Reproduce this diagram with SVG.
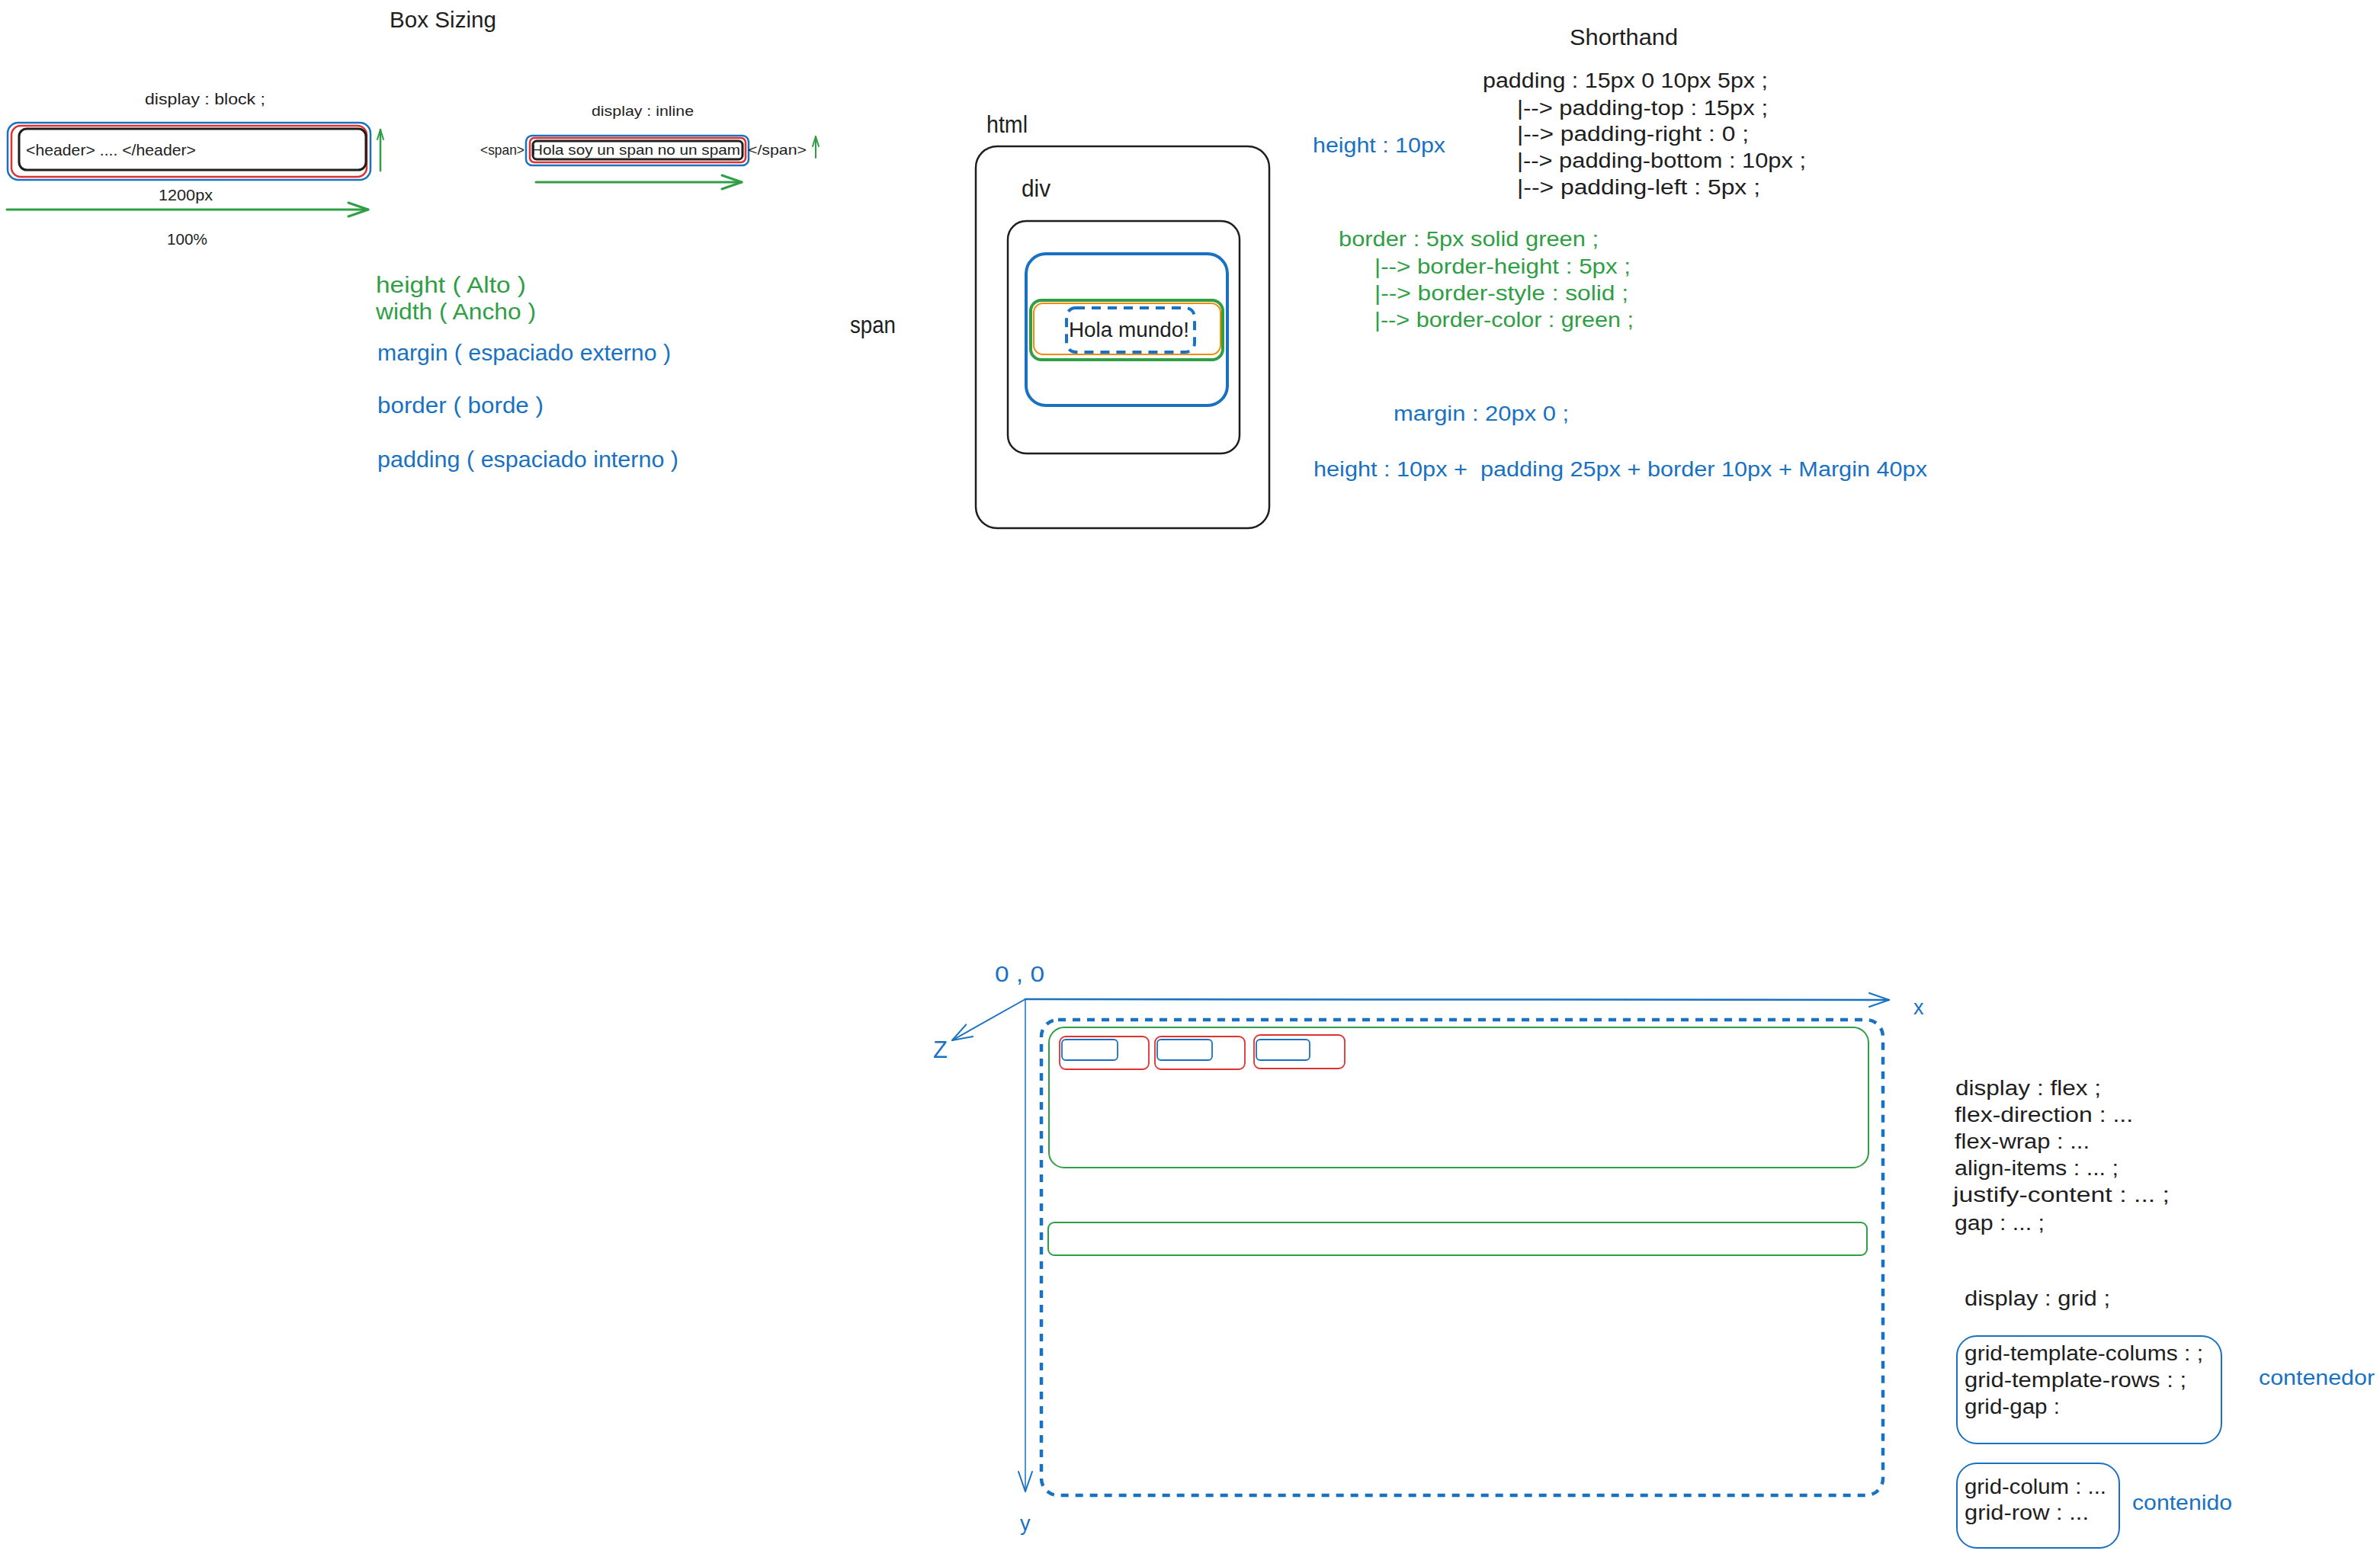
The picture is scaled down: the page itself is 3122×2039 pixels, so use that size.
<svg xmlns="http://www.w3.org/2000/svg" width="3122" height="2039" viewBox="0 0 3122 2039">
<style>
text{font-family:"Liberation Sans","DejaVu Sans",sans-serif;fill:#1e1e1e}
.b{fill:#1971c2}.g{fill:#2f9e44}
.s20{font-size:21px}.s18{font-size:19px}.s26{font-size:27px}.s28{font-size:29px}.s30{font-size:31px}
.r{fill:none}
.kb{stroke:#1e1e1e}.bb{stroke:#1971c2}.gb{stroke:#2f9e44}.rb{stroke:#e03131}.ob{stroke:#f08c00}
.ln{fill:none;stroke-linecap:round;stroke-linejoin:round}
</style>
<defs>
<marker id="ahG" viewBox="-30 -15 32 30" refX="0" refY="0" markerWidth="32" markerHeight="30" markerUnits="userSpaceOnUse" orient="auto"><path d="M-26,-9 L0,0 L-26,9" fill="none" stroke="#2f9e44" stroke-width="3" stroke-linecap="round" stroke-linejoin="round"/></marker>
<marker id="ahGs" viewBox="-20 -10 22 20" refX="0" refY="0" markerWidth="22" markerHeight="20" markerUnits="userSpaceOnUse" orient="auto"><path d="M-13,-4 L0,0 L-13,4" fill="none" stroke="#2f9e44" stroke-width="2" stroke-linecap="round" stroke-linejoin="round"/></marker>
<marker id="ahB" viewBox="-30 -15 32 30" refX="0" refY="0" markerWidth="32" markerHeight="30" markerUnits="userSpaceOnUse" orient="auto"><path d="M-26,-9 L0,0 L-26,9" fill="none" stroke="#1971c2" stroke-width="2" stroke-linecap="round" stroke-linejoin="round"/></marker>
</defs>
<rect width="3122" height="2039" fill="#ffffff"/>

<g id="box-sizing">
<text class="s28" x="511" y="36" textLength="140" lengthAdjust="spacingAndGlyphs">Box Sizing</text>
</g>

<g id="block-box">
<text class="s20" x="190" y="137" textLength="158" lengthAdjust="spacingAndGlyphs">display :  block ;</text>
<rect class="r bb" x="10" y="161" width="476" height="75" rx="14" stroke-width="2.5"/>
<rect class="r rb" x="15" y="165" width="466" height="67" rx="12" stroke-width="2.5"/>
<rect class="r kb" x="25" y="169" width="455" height="54" rx="10" stroke-width="3"/>
<text class="s20" x="34" y="204" textLength="223" lengthAdjust="spacingAndGlyphs">&lt;header&gt; .... &lt;/header&gt;</text>
<text class="s20" x="208" y="263" textLength="71" lengthAdjust="spacingAndGlyphs">1200px</text>
<text class="s20" x="219" y="321" textLength="53" lengthAdjust="spacingAndGlyphs">100%</text>
</g>

<g id="inline-box">
<text class="s18" x="776" y="152" textLength="134" lengthAdjust="spacingAndGlyphs">display : inline</text>
<rect class="r bb" x="690" y="178" width="292" height="39" rx="8" stroke-width="2.5"/>
<rect class="r rb" x="695" y="181" width="283" height="32" rx="6" stroke-width="2.5"/>
<rect class="r kb" x="699" y="185" width="275" height="24" rx="5" stroke-width="3"/>
<text class="s18" x="630" y="203" textLength="58" lengthAdjust="spacingAndGlyphs">&lt;span&gt;</text>
<text class="s18" x="697" y="203" textLength="274" lengthAdjust="spacingAndGlyphs">Hola soy un span no un spam</text>
<text class="s18" x="981" y="203" textLength="77" lengthAdjust="spacingAndGlyphs">&lt;/span&gt;</text>
</g>

<g id="properties-list">
<text class="s28 g" x="493" y="384" textLength="197" lengthAdjust="spacingAndGlyphs">height ( Alto )</text>
<text class="s28 g" x="493" y="419" textLength="210" lengthAdjust="spacingAndGlyphs">width ( Ancho )</text>
<text class="s28 b" x="495" y="473" textLength="385" lengthAdjust="spacingAndGlyphs">margin ( espaciado externo )</text>
<text class="s28 b" x="495" y="542" textLength="218" lengthAdjust="spacingAndGlyphs">border ( borde )</text>
<text class="s28 b" x="495" y="613" textLength="395" lengthAdjust="spacingAndGlyphs">padding ( espaciado interno )</text>
</g>

<g id="html-box">
<text class="s30" x="1294" y="174" textLength="54" lengthAdjust="spacingAndGlyphs">html</text>
<rect class="r kb" x="1280" y="192" width="385" height="501" rx="28" stroke-width="2.5"/>
</g>
<g id="div-box">
<text class="s30" x="1340" y="258" textLength="38" lengthAdjust="spacingAndGlyphs">div</text>
<rect class="r kb" x="1322" y="290" width="304" height="305" rx="24" stroke-width="2.5"/>
</g>
<g id="span-box">
<text class="s30" x="1115" y="437" textLength="60" lengthAdjust="spacingAndGlyphs">span</text>
<rect class="r bb" x="1346" y="333" width="264" height="199" rx="26" stroke-width="4"/>
<rect class="r gb" x="1352" y="394" width="252" height="78" rx="14" stroke-width="4"/>
<rect class="r ob" x="1356" y="398" width="245" height="67" rx="12" stroke-width="2"/>
<rect class="r bb" x="1399" y="404" width="168" height="58" rx="12" stroke-width="4" stroke-dasharray="12 9"/>
<text class="s26" x="1402" y="442" textLength="158" lengthAdjust="spacingAndGlyphs">Hola mundo!</text>
</g>

<g id="shorthand">
<text class="s28" x="2059" y="59" textLength="142" lengthAdjust="spacingAndGlyphs">Shorthand</text>
<text class="s26" x="1945" y="115" textLength="374" lengthAdjust="spacingAndGlyphs">padding : 15px 0 10px 5px ;</text>
<text class="s26" x="1990" y="151" textLength="329" lengthAdjust="spacingAndGlyphs">|--&gt; padding-top : 15px ;</text>
<text class="s26" x="1990" y="185" textLength="304" lengthAdjust="spacingAndGlyphs">|--&gt; padding-right : 0 ;</text>
<text class="s26" x="1990" y="220" textLength="379" lengthAdjust="spacingAndGlyphs">|--&gt; padding-bottom : 10px ;</text>
<text class="s26" x="1990" y="255" textLength="319" lengthAdjust="spacingAndGlyphs">|--&gt; padding-left : 5px ;</text>
<text class="s26 b" x="1722" y="200" textLength="174" lengthAdjust="spacingAndGlyphs">height : 10px</text>
<text class="s26 g" x="1756" y="323" textLength="341" lengthAdjust="spacingAndGlyphs">border : 5px solid green ;</text>
<text class="s26 g" x="1803" y="359" textLength="336" lengthAdjust="spacingAndGlyphs">|--&gt; border-height : 5px ;</text>
<text class="s26 g" x="1803" y="394" textLength="333" lengthAdjust="spacingAndGlyphs">|--&gt; border-style : solid ;</text>
<text class="s26 g" x="1803" y="429" textLength="340" lengthAdjust="spacingAndGlyphs">|--&gt; border-color : green ;</text>
<text class="s26 b" x="1828" y="552" textLength="230" lengthAdjust="spacingAndGlyphs">margin : 20px 0 ;</text>
<text class="s26 b" x="1723" y="625" textLength="805" lengthAdjust="spacingAndGlyphs" xml:space="preserve">height : 10px +  padding 25px + border 10px + Margin 40px</text>
</g>

<g id="axes-labels">
<text class="s28 b" x="1305" y="1288" textLength="65" lengthAdjust="spacingAndGlyphs">0 , 0</text>
<text class="s26 b" x="2510" y="1331">x</text>
<text class="s26 b" x="1338" y="2008">y</text>
<text class="s30 b" x="1224" y="1388">Z</text>
</g>

<g id="flex-container">
<rect class="r bb" x="1366" y="1338" width="1104" height="624" rx="22" stroke-width="4.5" stroke-dasharray="10 9"/>
</g>
<g id="flex-row-1">
<rect class="r gb" x="1376" y="1348" width="1075" height="184" rx="20" stroke-width="2"/>
</g>
<g id="flex-item-1">
<rect class="r rb" x="1390" y="1360" width="117" height="43" rx="8" stroke-width="1.8"/>
<rect class="r bb" x="1393" y="1364" width="73" height="27" rx="5" stroke-width="1.8"/>
</g>
<g id="flex-item-2">
<rect class="r rb" x="1515" y="1360" width="118" height="43" rx="8" stroke-width="1.8"/>
<rect class="r bb" x="1518" y="1364" width="72" height="27" rx="5" stroke-width="1.8"/>
</g>
<g id="flex-item-3">
<rect class="r rb" x="1645" y="1358" width="119" height="44" rx="8" stroke-width="1.8"/>
<rect class="r bb" x="1648" y="1364" width="70" height="27" rx="5" stroke-width="1.8"/>
</g>
<g id="flex-row-2">
<rect class="r gb" x="1375" y="1604" width="1074" height="43" rx="8" stroke-width="2"/>
</g>

<g id="flex-props">
<text class="s26" x="2565" y="1437" textLength="191" lengthAdjust="spacingAndGlyphs">display : flex ;</text>
<text class="s26" x="2564" y="1472" textLength="234" lengthAdjust="spacingAndGlyphs">flex-direction : ...</text>
<text class="s26" x="2564" y="1507" textLength="177" lengthAdjust="spacingAndGlyphs">flex-wrap : ...</text>
<text class="s26" x="2564" y="1542" textLength="215" lengthAdjust="spacingAndGlyphs">align-items : ... ;</text>
<text class="s26" x="2562" y="1577" textLength="284" lengthAdjust="spacingAndGlyphs">justify-content : ... ;</text>
<text class="s26" x="2564" y="1614" textLength="118" lengthAdjust="spacingAndGlyphs">gap : ... ;</text>
<text class="s26" x="2577" y="1713" textLength="191" lengthAdjust="spacingAndGlyphs">display : grid ;</text>
</g>
<g id="grid-container">
<rect class="r bb" x="2567" y="1753" width="347" height="141" rx="26" stroke-width="2"/>
<text class="s26" x="2577" y="1785" textLength="313" lengthAdjust="spacingAndGlyphs">grid-template-colums : ;</text>
<text class="s26" x="2577" y="1820" textLength="291" lengthAdjust="spacingAndGlyphs">grid-template-rows : ;</text>
<text class="s26" x="2577" y="1855" textLength="125" lengthAdjust="spacingAndGlyphs">grid-gap :</text>
<text class="s26 b" x="2963" y="1817" textLength="152" lengthAdjust="spacingAndGlyphs">contenedor</text>
</g>
<g id="grid-item">
<rect class="r bb" x="2567" y="1920" width="213" height="111" rx="26" stroke-width="2"/>
<text class="s26" x="2577" y="1960" textLength="186" lengthAdjust="spacingAndGlyphs">grid-colum : ...</text>
<text class="s26" x="2577" y="1994" textLength="163" lengthAdjust="spacingAndGlyphs">grid-row : ...</text>
<text class="s26 b" x="2797" y="1981" textLength="131" lengthAdjust="spacingAndGlyphs">contenido</text>
</g>

<g id="connectors">
<path class="ln" d="M499,224 L499,170" stroke="#2f9e44" stroke-width="2.5" marker-end="url(#ahGs)"/>
<path class="ln" d="M9,275 L483,275" stroke="#2f9e44" stroke-width="3" marker-end="url(#ahG)"/>
<path class="ln" d="M1070,207 L1070,179" stroke="#2f9e44" stroke-width="2" marker-end="url(#ahGs)"/>
<path class="ln" d="M703,239 L973,239" stroke="#2f9e44" stroke-width="3" marker-end="url(#ahG)"/>
<path class="ln" d="M1345,1311 L2478,1312" stroke="#1971c2" stroke-width="2.5" marker-end="url(#ahB)"/>
<path class="ln" d="M1345,1311 L1345,1957" stroke="#1971c2" stroke-width="1.5" marker-end="url(#ahB)"/>
<path class="ln" d="M1345,1311 L1249,1365" stroke="#1971c2" stroke-width="2" marker-end="url(#ahB)"/>
</g>
</svg>
